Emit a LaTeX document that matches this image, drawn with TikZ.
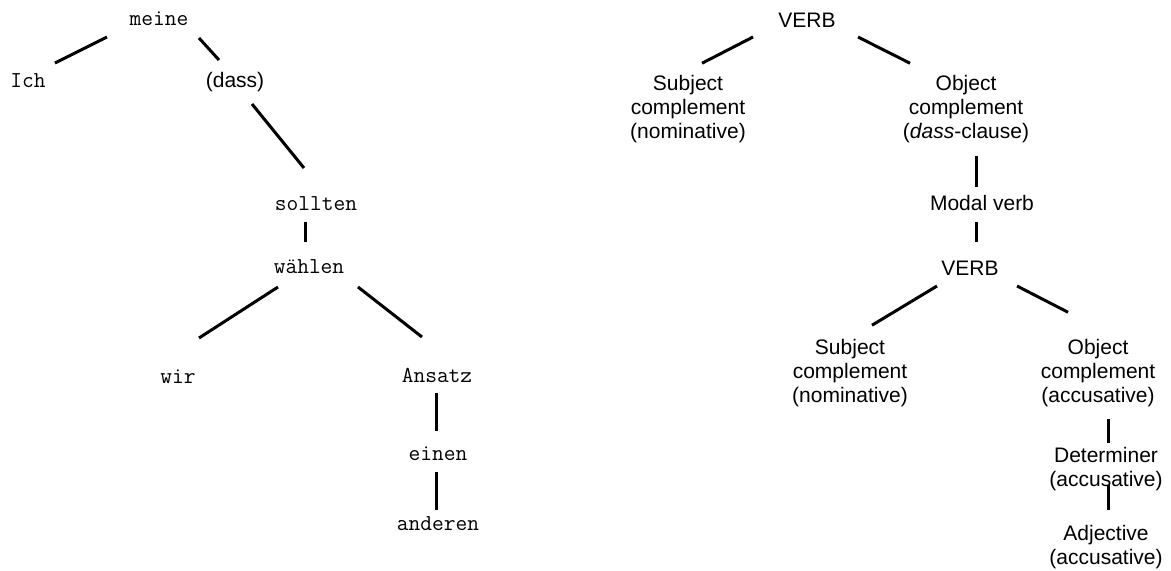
\documentclass[tikz,border=0pt]{standalone}
\usepackage{fontspec}
\setmainfont{Liberation Sans}
\usepackage{tikz}

\begin{document}
\begin{tikzpicture}[x=0.5pt,y=-0.5pt,
			every node/.style={inner sep=0pt,outer sep=0pt,text=black},
			word/.style={font=\ttfamily\fontsize{11.4}{12}\selectfont,
			text height=7pt,text depth=2pt},
			cat/.style={font=\fontsize{10.5}{12}\selectfont,align=center},
			catline/.style={cat,text height=7.5pt,text depth=2.5pt},
			link/.style={line width=1.5pt}
			]
		\useasboundingbox (0,0) rectangle (1171,570);
		% sentence tree
		\node[word] (meine) at (159,20) {meine};
		\node[word] (ich) at (28,82) {Ich};
		\node[catline] (dass) at (235,82) {(dass)};
		\node[word] (sollten) at (316,205) {sollten};
		\node[word] (waehlen) at (309,268) {wählen};
		\node[word] (wir) at (178,378) {wir};
		\node[word] (ansatz) at (437,377) {Ansatz};
		\node[word] (einen) at (438,455) {einen};
		\node[word] (anderen) at (438,525) {anderen};
		\draw[link] ([shift={(-52,8)}]meine.south) -- ([shift={(27,-10)}]ich.north);
		\draw[link] ([shift={(40,9)}]meine.south) -- ([shift={(-16,-12)}]dass.north);
		\draw[link] ([shift={(17,12)}]dass.south) -- ([shift={(-12,-28)}]sollten.north);
		\draw[link] ([shift={(-11,8)}]sollten.south) -- ([shift={(-4,-17)}]waehlen.north);
		\draw[link] ([shift={(-31,10)}]waehlen.south) -- ([shift={(21,-31)}]wir.north);
		\draw[link] ([shift={(49,10)}]waehlen.south) -- ([shift={(-15,-31)}]ansatz.north);
		\draw[link] ([shift={(-1,7)}]ansatz.south) -- ([shift={(-2,-15)}]einen.north);
		\draw[link] ([shift={(-2,8)}]einen.south) -- ([shift={(-2,-6)}]anderen.north);
		% category tree
		\node[catline] (verbA) at (807,22) {VERB};
		\node[cat] (subjA) at (688,109) {Subject\\complement\\(nominative)};
		\node[cat] (objA) at (966,109) {Object\\complement\\(\textit{dass}-clause)};
		\node[catline] (modal) at (982,205) {Modal verb};
		\node[catline] (verbB) at (970,270) {VERB};
		\node[cat] (subjB) at (850,373) {Subject\\complement\\(nominative)};
		\node[cat] (objB) at (1098,373) {Object\\complement\\(accusative)};
		\node[cat] (det) at (1106,469) {Determiner\\(accusative)};
		\node[cat] (adj) at (1106,547) {Adjective\\(accusative)};
		\draw[link] ([shift={(-54,5)}]verbA.south) -- ([shift={(14,-12)}]subjA.north);
		\draw[link] ([shift={(51,5)}]verbA.south) -- ([shift={(-56,-12)}]objA.north);
		\draw[link] ([shift={(10,13)}]objA.south) -- ([shift={(-6,-8)}]modal.north);
		\draw[link] ([shift={(-6,7)}]modal.south) -- ([shift={(6,-18)}]verbB.north);
		\draw[link] ([shift={(-33,6)}]verbB.south) -- ([shift={(22,-14)}]subjB.north);
		\draw[link] ([shift={(47,6)}]verbB.south) -- ([shift={(-30,-27)}]objB.north);
		\draw[link] ([shift={(10,12)}]objB.south) -- ([shift={(2,-4)}]det.north);
		\draw[link] ([shift={(2,-6)}]det.south) -- ([shift={(2,-15)}]adj.north);
	\end{tikzpicture}
\end{document}
